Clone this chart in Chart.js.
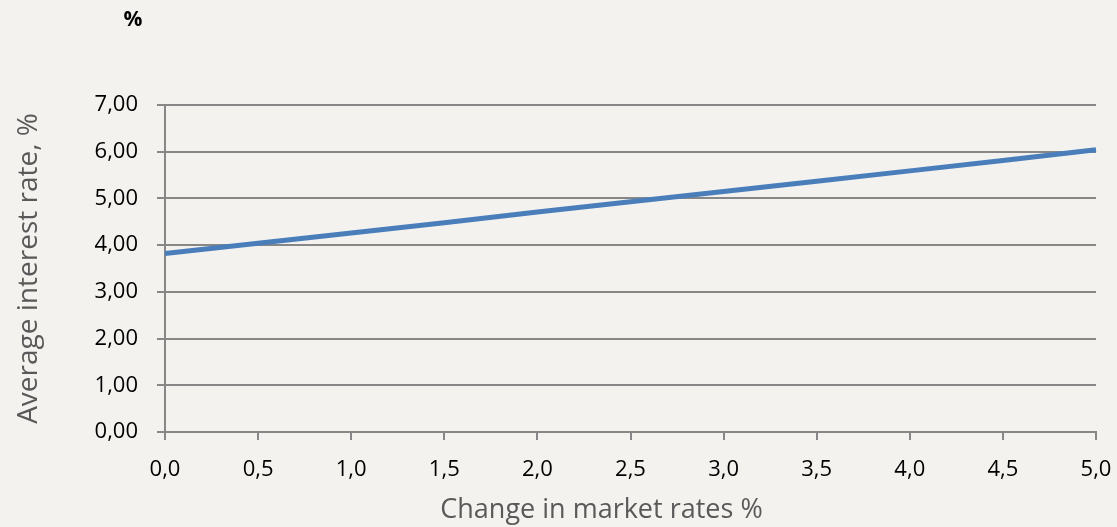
<!DOCTYPE html>
<html>
<head>
<meta charset="utf-8">
<script src="https://cdn.jsdelivr.net/npm/chart.js@4/dist/chart.umd.min.js"></script>
<style>
  html, body { margin: 0; padding: 0; background: #f3f2ef; }
  #wrap { width: 1117px; height: 527px; position: relative; }
</style>
</head>
<body>
<div id="wrap"><canvas id="c" width="1117" height="527"></canvas></div>
<script>
// Change in market rates (x categories) and resulting average interest rate
const marketChange = ['0,0', '0,5', '1,0', '1,5', '2,0', '2,5', '3,0', '3,5', '4,0', '4,5', '5,0'];
const avgRate = [3.82, 4.04, 4.26, 4.48, 4.71, 4.93, 5.15, 5.37, 5.59, 5.81, 6.04];
const yTicks = [0, 1, 2, 3, 4, 5, 6, 7];
const xTitle = 'Change in market rates %';

const FONT = "'Open Sans', 'Liberation Sans', sans-serif";
const GRID = '#878787';

// Unit marker above the value axis and the horizontal axis title
const extraText = {
  id: 'extraText',
  afterDraw(chart) {
    const ctx = chart.ctx;
    const x = chart.scales.x;
    ctx.save();
    ctx.font = "bold 21px " + FONT;
    ctx.fillStyle = '#000';
    ctx.textAlign = 'center';
    ctx.textBaseline = 'middle';
    ctx.fillText('%', chart.scales.y.right - 32, 20);

    ctx.font = "27px " + FONT;
    ctx.fillStyle = '#595959';
    ctx.fillText(xTitle, (x.left + x.right) / 2 - 29, 510);
    ctx.restore();
  }
};

new Chart(document.getElementById('c'), {
  type: 'line',
  data: {
    labels: marketChange,
    datasets: [{
      data: avgRate,
      borderColor: '#4a7ebb',
      borderWidth: 5,
      pointRadius: 0,
      tension: 0,
      fill: false
    }]
  },
  options: {
    responsive: false,
    animation: false,
    layout: { padding: { top: 105, right: 21, left: 0, bottom: 0 } },
    plugins: { legend: { display: false }, tooltip: { enabled: false } },
    scales: {
      x: {
        type: 'category',
        offset: false,
        grid: { display: true, drawOnChartArea: false, drawTicks: true, tickLength: 8, color: GRID, lineWidth: 2 },
        border: { display: true, color: GRID, width: 2 },
        ticks: { color: '#000', font: { family: FONT, size: 22 }, padding: 17, maxRotation: 0, autoSkip: false },
        afterFit(s) { s.height = 95; s.paddingLeft = 0; s.paddingRight = 0; }
      },
      y: {
        min: 0,
        max: 7,
        afterBuildTicks(s) { s.ticks = yTicks.map(v => ({ value: v })); },
        grid: { color: GRID, lineWidth: 2, tickLength: 8 },
        border: { display: true, color: GRID, width: 2 },
        ticks: {
          color: '#000',
          font: { family: FONT, size: 22 },
          padding: 19,
          callback: v => v.toFixed(2).replace('.', ',')
        },
        title: { display: true, text: 'Average interest rate, %', color: '#595959', font: { family: FONT, size: 28 }, padding: { top: 12, bottom: 0 } },
        afterFit(s) { s.width = 165; s.paddingTop = 0; s.paddingBottom = 0; }
      }
    }
  },
  plugins: [extraText]
});
</script>
</body>
</html>
